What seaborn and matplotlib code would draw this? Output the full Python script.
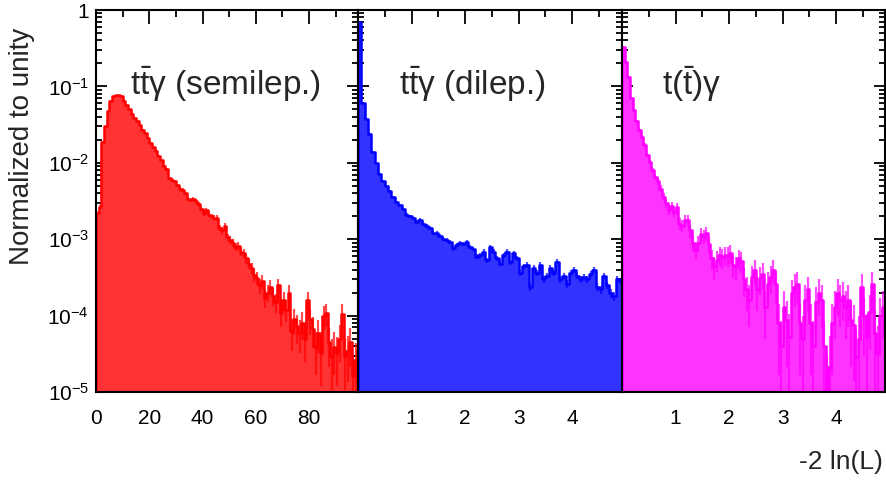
import numpy as np
import pandas as pd
import matplotlib
matplotlib.use("Agg")
import matplotlib.pyplot as plt
import seaborn as sns
from matplotlib.ticker import FixedLocator, FixedFormatter, LogLocator, NullFormatter

# ---------------- data ----------------
semilep_values = [
    0.0022, 0.0026, 0.019, 0.030, 0.047, 0.065, 0.075, 0.077, 0.077, 0.074,
    0.065, 0.057, 0.050, 0.044, 0.039, 0.035, 0.031, 0.027, 0.0243, 0.021,
    0.018, 0.0163, 0.0144, 0.0123, 0.011, 0.0091, 0.0082, 0.0063, 0.0060, 0.0057,
    0.0051, 0.0046, 0.0044, 0.0040, 0.0034, 0.0033, 0.0034, 0.0032, 0.0029, 0.0025,
    0.0022, 0.0024, 0.0021, 0.0020, 0.0019, 0.0019, 0.0014, 0.0013, 0.0015, 0.00107,
    0.00098, 0.0009, 0.00079, 0.00082, 0.00069, 0.00065, 0.00056, 0.00048, 0.00042, 0.00034,
    0.00031, 0.00025, 0.00028, 0.00017, 0.00020, 0.00024, 0.00018, 0.00015, 0.00025, 0.000107,
    0.00016, 0.00012, 0.00020, 0.000062, 0.00009, 0.000072, 0.00006, 0.00008, 0.00005, 0.00016,
    0.00009, 0.000066, 0.000039, 0.00006, 0.000032, 0.0001, 0.000107, 0.000045, 0.00003, 0.000039,
    0.000032, 0.00005, 0.000105, 0.00003, 0.000034, 0.000045, 0.000016, 0.000026, 0.000035,
]
dilep_values = [
    0.70, 0.061, 0.038, 0.024, 0.014, 0.0098, 0.0072, 0.0058, 0.0050, 0.0043,
    0.0036, 0.0031, 0.0028, 0.0025, 0.0021, 0.0020, 0.0019, 0.0017, 0.0018, 0.0016,
    0.0015, 0.0014, 0.0012, 0.0012, 0.0011, 0.0010, 0.00098, 0.00093, 0.00076, 0.00084,
    0.00089, 0.00087, 0.00093, 0.0008, 0.00074, 0.00059, 0.00062, 0.00069, 0.00053, 0.00080,
    0.00069, 0.00056, 0.00048, 0.00062, 0.00069, 0.0005, 0.00065, 0.00056, 0.00036, 0.00044,
    0.00046, 0.00024, 0.00042, 0.00036, 0.00046, 0.00030, 0.00033, 0.00042, 0.00036, 0.00051,
    0.0003, 0.00033, 0.00026, 0.00036, 0.0004, 0.00033, 0.0003, 0.00032, 0.0003, 0.00035,
    0.0004, 0.00024, 0.00022, 0.00033, 0.00025, 0.000195, 0.00018, 0.0003, 0.00028,
]
single_values = [
    0.33, 0.21, 0.134, 0.07, 0.049, 0.035, 0.027, 0.022, 0.017, 0.0126,
    0.0103, 0.008, 0.0066, 0.0057, 0.0046, 0.0036, 0.0030, 0.0024, 0.0027, 0.0023,
    0.0026, 0.0016, 0.0015, 0.0018, 0.0018, 0.0013, 0.00089, 0.00072, 0.00089, 0.00117,
    0.0011, 0.0012, 0.00086, 0.00056, 0.00044, 0.00053, 0.00062, 0.00058, 0.00062, 0.00061,
    0.00065, 0.00046, 0.00044, 0.00056, 0.00052, 0.00030, 0.00022, 0.00016, 0.00032, 0.0004,
    0.00022, 0.00031, 0.00035, 0.00013, 0.00026, 0.00032, 0.0004, 0.00026, 0.00008, 0.00004,
    0.00013, 0.000087, 0.000053, 0.000195, 0.00024, 0.00026, 0.00008, 0.00005, 0.00016, 0.00022,
    0.00008, 0.00004, 0.00015, 0.0002, 0.00016, 0.00004, 0.000009, 0.000021, 0.00008, 0.00013,
    0.0002, 0.00016, 0.00018, 0.00013, 0.00016, 0.000087, 0.000075, 0.000029, 0.00005, 0.00024,
    0.0001, 0.000053, 0.00011, 0.00026, 0.00006, 0.000032, 0.0001, 0.00013, 0.000065,
]
bin_widths = [1.0, 0.0625, 0.05]
x_maxes = [98.4, 4.93, 4.91]
effective_events = [80000, 300000, 20000]
titles = [r"$\mathrm{t\bar{t}\gamma}$ (semilep.)",
          r"$\mathrm{t\bar{t}\gamma}$ (dilep.)",
          r"$\mathrm{t(\bar{t})\gamma}$"]
fill_colors = ["#ff3333", "#3333ff", "#ff33ff"]
line_colors = ["#ff0000", "#0000ff", "#ff00ff"]
x_major_ticks = [[0, 20, 40, 60, 80], [1, 2, 3, 4], [1, 2, 3, 4]]
x_minor_ticks = [[10, 30, 50, 70, 90], [0.5, 1.5, 2.5, 3.5, 4.5], [0.5, 1.5, 2.5, 3.5, 4.5]]
y_ticks = [1e-5, 1e-4, 1e-3, 1e-2, 1e-1, 1]
y_tick_labels = [r"$10^{-5}$", r"$10^{-4}$", r"$10^{-3}$", r"$10^{-2}$", r"$10^{-1}$", "1"]
y_label = "Normalized to unity"
x_label = "-2 ln(L)"

# ---------------- style ----------------
sns.set_style("ticks")
plt.rcParams["font.family"] = ["Liberation Sans", "DejaVu Sans"]
plt.rcParams["mathtext.fontset"] = "custom"
plt.rcParams["mathtext.rm"] = "Liberation Sans"
plt.rcParams["mathtext.it"] = "Liberation Sans:italic"
plt.rcParams["mathtext.bf"] = "Liberation Sans:bold"
plt.rcParams["axes.linewidth"] = 1.5

W, H = 886, 480
fig = plt.figure(figsize=(W / 100, H / 100), dpi=100)
panel_px = [(96, 358), (358, 622), (622, 885)]
top_px, bot_px = 10, 392

series = [semilep_values, dilep_values, single_values]
title_x = [0.13, 0.155, 0.152]

for i, (l, r) in enumerate(panel_px):
    ax = fig.add_axes([l / W, 1 - bot_px / H, (r - l) / W, (bot_px - top_px) / H])
    vals = np.array(series[i], dtype=float)
    n = len(vals)
    edges = [k * bin_widths[i] for k in range(n + 1)]
    centers = [(edges[k] + edges[k + 1]) / 2 for k in range(n)]
    df = pd.DataFrame({"x": centers, "w": list(vals)})
    sns.histplot(data=df, x="x", weights="w", bins=edges, element="step",
                 fill=True, facecolor=fill_colors[i], edgecolor=line_colors[i],
                 alpha=1, linewidth=1.8, ax=ax)
    err = np.sqrt(vals / effective_events[i])
    lower = np.minimum(err, vals - 1e-7)
    ax.errorbar(centers, vals, yerr=[lower, err], fmt="none",
                ecolor=line_colors[i], elinewidth=1.6, alpha=0.7, zorder=3)
    ax.set_yscale("log")
    ax.set_ylim(1e-5, 1)
    ax.set_xlim(0, x_maxes[i])
    ax.set_xlabel("")
    ax.set_ylabel("")
    ax.xaxis.set_major_locator(FixedLocator(x_major_ticks[i]))
    ax.xaxis.set_minor_locator(FixedLocator(x_minor_ticks[i]))
    ax.yaxis.set_major_locator(FixedLocator(y_ticks))
    ax.yaxis.set_minor_locator(LogLocator(base=10, subs=np.arange(2, 10)))
    ax.yaxis.set_minor_formatter(NullFormatter())
    ax.set_xticklabels([str(t) for t in x_major_ticks[i]])
    if i == 0:
        ax.yaxis.set_major_formatter(FixedFormatter(y_tick_labels))
    else:
        ax.tick_params(axis="y", which="both", labelleft=False)
    ax.tick_params(axis="both", which="both", direction="in", top=True, right=True,
                   width=1.3, colors="black")
    ax.tick_params(axis="x", which="major", length=10, pad=12, labelsize=15)
    ax.tick_params(axis="x", which="minor", length=5)
    ax.tick_params(axis="y", which="major", length=8, pad=5, labelsize=15)
    ax.tick_params(axis="y", which="minor", length=4.5)
    for s in ax.spines.values():
        s.set_linewidth(1.5)
        s.set_color("black")
        s.set_zorder(5)
    ax.text(title_x[i], 0.777, titles[i], transform=ax.transAxes, fontsize=24,
            ha="left", va="baseline")

fig.text(22 / W, 1 - 28 / H, y_label, rotation=90, ha="center", va="top", fontsize=20)
fig.text(883 / W, 1 - 462 / H, x_label, ha="right", va="center", fontsize=19)

fig.savefig("out.png", dpi=100)
